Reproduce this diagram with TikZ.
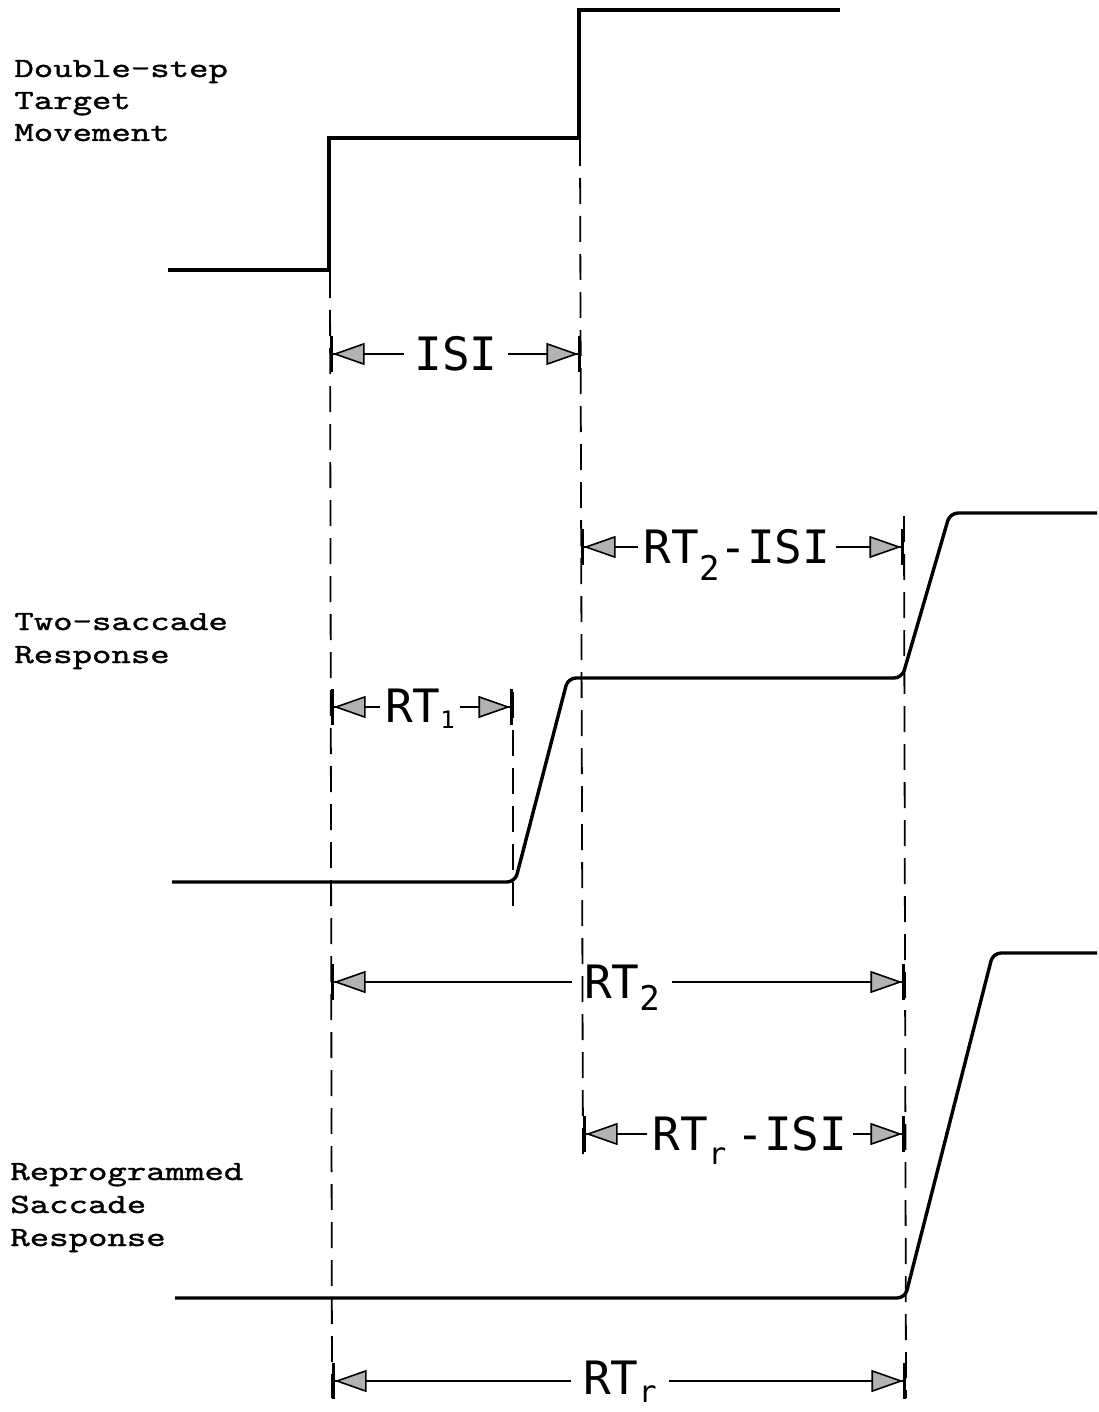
\documentclass[tikz,border=0pt]{standalone}
\usepackage{fontspec}
\usepackage{graphicx}
\usetikzlibrary{arrows.meta}
\newfontfamily\lettering{DejaVu Sans Mono}
\newfontfamily\twfont[FakeBold=1.3,FakeStretch=1.33]{lmmono10-regular.otf}
\newcommand\sbs[3]{\raisebox{-#1pt}{\fontsize{#2}{#2}\selectfont #3}}
\begin{document}
\begin{tikzpicture}[x=0.5pt,y=-0.5pt,
  target/.style={line width=2pt, line join=miter},
  trace/.style={line width=1.7pt, line join=round, rounded corners=4pt},
  guide/.style={line width=0.9pt, dash pattern=on 13pt off 6pt},
  dimline/.style={line width=0.7pt, -{Triangle[length=16pt,width=11pt,fill=gray!60,line width=0.8pt] Bar[width=18pt,line width=1.3pt]}},
  lab/.style={font=\fontsize{23}{26}\lettering, inner xsep=2.5pt, inner ysep=0pt, anchor=base},
  tw/.style={font=\fontsize{13.9}{16}\twfont, inner sep=0pt, anchor=base west}]
\useasboundingbox (0,0) rectangle (1098,1412);

% side labels
\node[tw] (d1) at (14,77) {Double-step};
\node[tw] (d2) at (14,109) {Target};
\node[tw] (d3) at (14,141) {Movement};
\node[tw] (t1) at (14,630) {Two-saccade};
\node[tw] (t2) at (14,663) {Response};
\node[tw] (r1) at (10,1180) {Reprogrammed};
\node[tw] (r2) at (10,1213) {Saccade};
\node[tw] (r3) at (10,1246) {Response};

% traces
\draw[target] (168,270) -- (329,270) -- (329,138) -- (579,138) -- (579,10) -- (840,10);
\draw[trace] (172,882) -- (515,882) -- (568,678) -- (902,678) -- (950,513) -- (1097,513);
\draw[trace] (175,1298) -- (905,1298) -- (993,953) -- (1097,953);

% guide lines
\coordinate (g1a) at (330,272);  \coordinate (g1b) at (332,1398);
\coordinate (g2a) at (580,140);  \coordinate (g2b) at (583,1162);
\coordinate (g3a) at (904,516);  \coordinate (g3b) at (906,1398);
\coordinate (g4a) at (513,692);  \coordinate (g4b) at (513,906);
\draw[guide] (g1a) -- (g1b);
\draw[guide] (g2a) -- (g2b);
\draw[guide] (g3a) -- (g3b);
\draw[guide] (g4a) -- (g4b);

% ISI
\coordinate (isiL) at (330,354); \coordinate (isiR) at (581,354);
\node[lab, inner xsep=5pt] (isi) at (456,370) {ISI};
\draw[dimline] (isi.west |- isiL) -- (isiL);
\draw[dimline] (isi.east |- isiR) -- (isiR);

% RT2-ISI
\coordinate (aL) at (581,547); \coordinate (aR) at (904,547);
\node[lab] (rt2isi) at (737,563) {RT\sbs{8.5}{17}{2}-ISI};
\draw[dimline] (rt2isi.west |- aL) -- (aL);
\draw[dimline] (rt2isi.east |- aR) -- (aR);

% RT1
\coordinate (bL) at (331,707); \coordinate (bR) at (513,707);
\node[lab] (rt1) at (420,722) {RT\sbs{3}{12}{1}};
\draw[dimline] (rt1.west |- bL) -- (bL);
\draw[dimline] (rt1.east |- bR) -- (bR);

% RT2
\coordinate (cL) at (331,982); \coordinate (cR) at (905,982);
\node[lab, inner xsep=6pt] (rt2) at (622,998) {RT\sbs{6}{17}{2}};
\draw[dimline] (rt2.west |- cL) -- (cL);
\draw[dimline] (rt2.east |- cR) -- (cR);

% RTr-ISI
\coordinate (eL) at (583,1134); \coordinate (eR) at (905,1134);
\node[lab] (rtrisi) at (750,1150) {RT\sbs{7}{15}{r}\hspace{5pt}-ISI};
\draw[dimline] (rtrisi.west |- eL) -- (eL);
\draw[dimline] (rtrisi.east |- eR) -- (eR);

% RTr
\coordinate (fL) at (332,1381); \coordinate (fR) at (906,1381);
\node[lab, inner xsep=6pt] (rtr) at (620,1394) {RT\sbs{4}{15}{r}};
\draw[dimline] (rtr.west |- fL) -- (fL);
\draw[dimline] (rtr.east |- fR) -- (fR);
\end{tikzpicture}
\end{document}
